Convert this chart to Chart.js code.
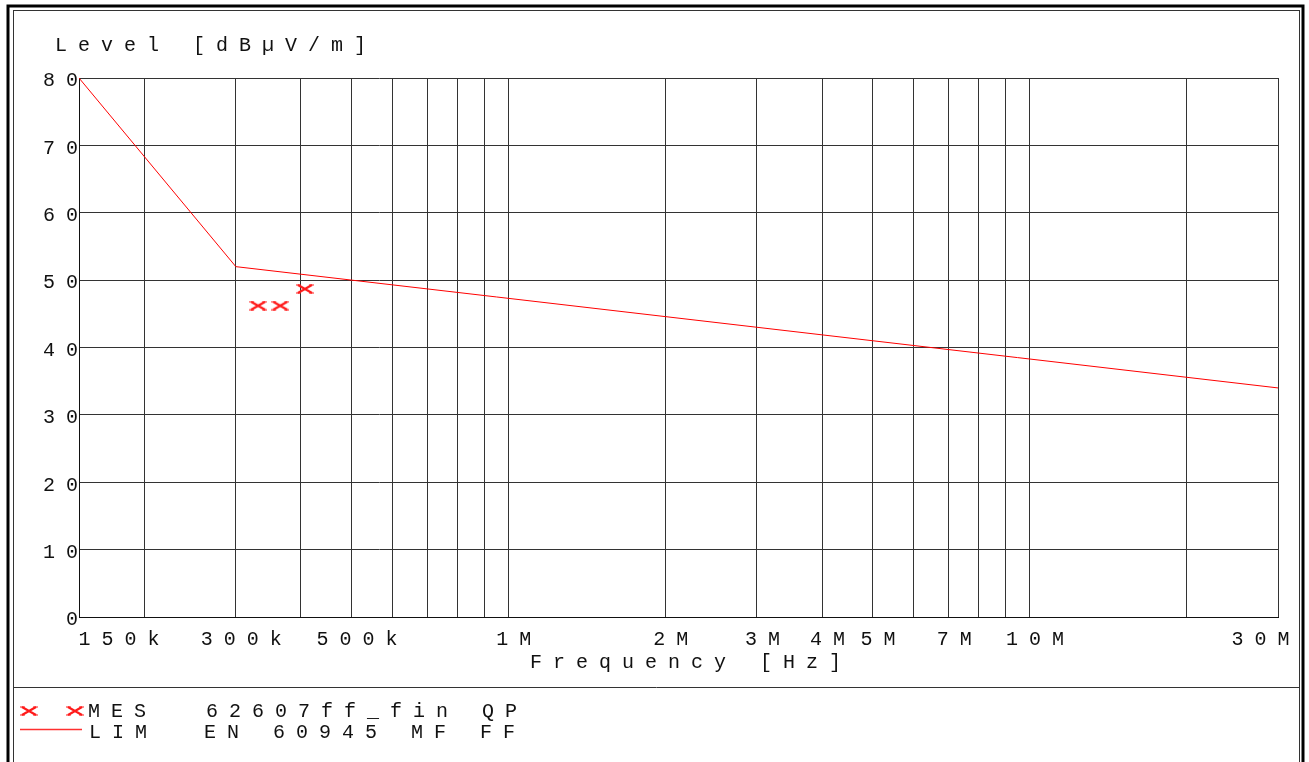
<!DOCTYPE html>
<html><head><meta charset="utf-8">
<script src="https://cdn.jsdelivr.net/npm/chart.js@4/dist/chart.umd.min.js"></script>
<style>html,body{margin:0;padding:0;background:#fff;overflow:hidden}</style>
</head><body>
<canvas id="c" width="1309" height="762"></canvas>
<script>
const FONT = '"Liberation Mono", "DejaVu Sans Mono", monospace';
const FSIZE = 20;
const SPACING = '11px';

const yTitle = 'Level [dBµV/m]';
const xTitle = 'Frequency [Hz]';

// x grid frequencies (Hz)
const gridFreqs = [150e3, 200e3, 300e3, 400e3, 500e3, 600e3, 700e3, 800e3, 900e3,
  1e6, 2e6, 3e6, 4e6, 5e6, 6e6, 7e6, 8e6, 9e6, 10e6, 20e6, 30e6];
const xLabelFreqs = [150e3, 300e3, 500e3, 1e6, 2e6, 3e6, 4e6, 5e6, 7e6, 10e6, 30e6];
const xLabelTexts = ['   150k', '300k', '500k', '1M', '2M', '3M', '4M', '5M', '7M', '10M', '30M  '];
const yTicks = [0, 10, 20, 30, 40, 50, 60, 70, 80];

// MES 62607ff_fin QP (measurement points)
const mesFreq = [331e3, 365e3, 407e3];
const mesLevel = [46.2, 46.2, 48.7];
// LIM EN 60945 MF FF (limit line)
const limFreq = [150e3, 300e3, 30e6];
const limLevel = [80, 52, 34];

const legendNames = ['MES', 'LIM'];
const legendDescs = ['62607ff_fin QP', 'EN 60945 MF FF'];

// cross marker
const mark = document.createElement('canvas');
mark.width = 18; mark.height = 10;
(function () {
  const m = mark.getContext('2d');
  m.strokeStyle = '#ff1a1a'; m.lineWidth = 2.2;
  m.beginPath(); m.moveTo(2, 1); m.lineTo(16, 9); m.moveTo(16, 1); m.lineTo(2, 9); m.stroke();
  m.lineWidth = 1.2;
  m.beginPath(); m.moveTo(0, 1); m.lineTo(5, 1); m.moveTo(13, 1); m.lineTo(18, 1);
  m.moveTo(0, 9); m.lineTo(5, 9); m.moveTo(13, 9); m.lineTo(18, 9); m.stroke();
})();

const spacingPlugin = {
  id: 'spacing',
  beforeUpdate(c) { c.ctx.letterSpacing = SPACING; },
  beforeDraw(c) { c.ctx.letterSpacing = SPACING; }
};

const decorPlugin = {
  id: 'decor',
  afterDraw(c) {
    const ctx = c.ctx;
    ctx.save();
    ctx.letterSpacing = SPACING;
    ctx.font = FSIZE + 'px ' + FONT;
    ctx.fillStyle = '#111';
    ctx.textAlign = 'left';
    ctx.textBaseline = 'alphabetic';
    ctx.fillText(yTitle, 55, 51);
    ctx.fillText(xTitle, 530, 668);
    // frames
    ctx.strokeStyle = '#000';
    ctx.lineWidth = 3;
    ctx.strokeRect(8, 6, 1295, 820);
    ctx.lineWidth = 1;
    ctx.strokeStyle = '#333';
    ctx.strokeRect(13.5, 10.5, 1286, 820);
    ctx.beginPath(); ctx.moveTo(13.5, 687.5); ctx.lineTo(1299.5, 687.5); ctx.stroke();
    // legend
    ctx.drawImage(mark, 20, 706);
    ctx.drawImage(mark, 66, 706);
    ctx.strokeStyle = '#ff3030';
    ctx.lineWidth = 1.5;
    ctx.beginPath(); ctx.moveTo(20, 729.5); ctx.lineTo(82, 729.5); ctx.stroke();
    ctx.fillText(legendNames[0], 88, 717);
    ctx.fillText(legendDescs[0], 206, 717);
    ctx.fillText(legendNames[1], 89, 738);
    ctx.fillText(legendDescs[1], 204, 738);
    ctx.restore();
  }
};

function xLabel(v) {
  for (let i = 0; i < xLabelFreqs.length; i++) {
    if (Math.abs(v - xLabelFreqs[i]) / xLabelFreqs[i] < 1e-6) return xLabelTexts[i];
  }
  return '';
}

new Chart(document.getElementById('c'), {
  type: 'scatter',
  data: {
    datasets: [
      {
        label: legendNames[0] + ' ' + legendDescs[0],
        data: mesFreq.map((f, i) => ({ x: f, y: mesLevel[i] })),
        pointStyle: mark,
        pointRadius: 6,
        showLine: false
      },
      {
        label: legendNames[1] + ' ' + legendDescs[1],
        data: limFreq.map((f, i) => ({ x: f, y: limLevel[i] })),
        showLine: true,
        borderColor: '#ff0000',
        borderWidth: 1,
        pointRadius: 0,
        tension: 0
      }
    ]
  },
  options: {
    responsive: false,
    animation: false,
    events: [],
    layout: { padding: { top: 78, right: 31, left: 0, bottom: 0 } },
    plugins: { legend: { display: false }, tooltip: { enabled: false }, title: { display: false } },
    scales: {
      x: {
        type: 'logarithmic',
        min: 150e3, max: 30e6,
        afterBuildTicks: s => { s.ticks = gridFreqs.map(v => ({ value: v })); },
        afterFit: s => { s.height = 145; s.paddingLeft = 0; s.paddingRight = 0; },
        ticks: {
          autoSkip: false, maxRotation: 0, minRotation: 0,
          labelOffset: 11, padding: 11,
          color: '#111', font: { family: FONT, size: FSIZE },
          callback: v => xLabel(v)
        },
        grid: { color: '#333', lineWidth: 1, drawTicks: false },
        border: { display: true, color: '#111', width: 1 }
      },
      y: {
        min: 0, max: 80,
        afterBuildTicks: s => { s.ticks = yTicks.map(v => ({ value: v })); },
        afterFit: s => { s.width = 79; s.paddingTop = 0; s.paddingBottom = 0; },
        ticks: {
          padding: -10, labelOffset: 3,
          color: '#111', font: { family: FONT, size: FSIZE },
          callback: v => String(v)
        },
        grid: { color: '#333', lineWidth: 1, drawTicks: false },
        border: { display: true, color: '#111', width: 1 }
      }
    }
  },
  plugins: [spacingPlugin, decorPlugin]
});
</script>
</body></html>
